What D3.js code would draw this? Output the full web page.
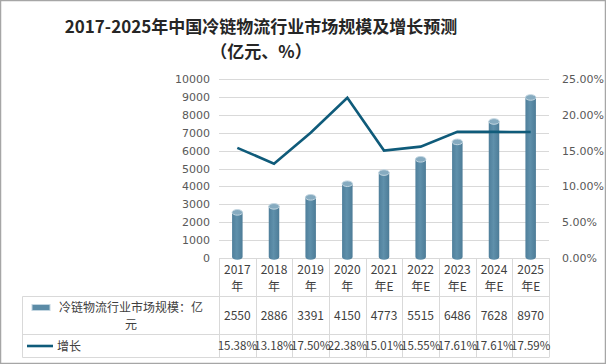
<!DOCTYPE html>
<html>
<head>
<meta charset="utf-8">
<script src="https://cdn.jsdelivr.net/npm/d3@7"></script>
<style>
  body { margin: 0; background: #fff; }
  svg { display: block; font-family: "Noto Sans CJK SC", "DejaVu Sans", sans-serif; }
  .title { font-weight: bold; fill: #262626; }
  .tick text { fill: #595959; font-size: 11px; font-family: "DejaVu Sans", "Noto Sans CJK SC", sans-serif; }
  .cell { fill: #404040; font-size: 12px; }
  .pct { font-family: "Liberation Sans Narrow", "Noto Sans CJK SC", sans-serif; font-size: 11.5px; }
</style>
</head>
<body>
<div class="chart-container"></div>
<script>
var years = ['2017', '2018', '2019', '2020', '2021', '2022', '2023', '2024', '2025'];
var yearSuffix = ['年', '年', '年', '年', '年E', '年E', '年E', '年E', '年E'];
var marketSize = [2550, 2886, 3391, 4150, 4773, 5515, 6486, 7628, 8970];
var growth = [15.38, 13.18, 17.50, 22.38, 15.01, 15.55, 17.61, 17.61, 17.59];
var leftTicks = [0, 1000, 2000, 3000, 4000, 5000, 6000, 7000, 8000, 9000, 10000];
var rightTicks = [0, 5, 10, 15, 20, 25];

var W = 606, H = 364;
var margin = {top: 79, left: 219, right: 57, bottom: 106};
var plotBottom = H - margin.bottom;

var svg = d3.select('.chart-container').append('svg')
  .attr('width', W)
  .attr('height', H);

// outer frame
svg.append('rect')
  .attr('x', 0.5).attr('y', 0.5)
  .attr('width', W - 1).attr('height', H - 1)
  .attr('fill', 'none').attr('stroke', '#a6a6a6').attr('stroke-width', 1.5);

svg.append('text').attr('class', 'title')
  .attr('x', 261).attr('y', 33).attr('text-anchor', 'middle')
  .attr('font-size', 17).text('2017-2025年中国冷链物流行业市场规模及增长预测');
svg.append('text').attr('class', 'title')
  .attr('x', 261).attr('y', 58).attr('text-anchor', 'middle')
  .attr('font-size', 17).text('（亿元、%）');

var x = d3.scaleBand()
  .domain(years)
  .range([margin.left, W - margin.right]);

var y = d3.scaleLinear()
  .domain([0, 10000])
  .range([plotBottom, margin.top]);

var y2 = d3.scaleLinear()
  .domain([0, 25])
  .range([plotBottom, margin.top]);

// gridlines
svg.append('g')
  .selectAll('line')
  .data(leftTicks)
  .enter().append('line')
  .attr('x1', margin.left).attr('x2', W - margin.right)
  .attr('y1', d => Math.round(y(d)) + 0.5).attr('y2', d => Math.round(y(d)) + 0.5)
  .attr('stroke', '#d9d9d9').attr('stroke-width', 1);

var yAxis = d3.axisLeft(y).tickValues(leftTicks).tickSize(0).tickPadding(9)
  .tickFormat(d3.format('d'));
var gY = svg.append('g')
  .attr('transform', `translate(${margin.left},0)`)
  .call(yAxis);
gY.select('.domain').remove();

var yAxis2 = d3.axisRight(y2).tickValues(rightTicks).tickSize(0).tickPadding(0)
  .tickFormat(d => d.toFixed(2) + '%');
var gY2 = svg.append('g')
  .attr('transform', `translate(${W - margin.right + 13},0)`)
  .call(yAxis2);
gY2.select('.domain').remove();

// cylinder bars
var bw = 10.5;
var ry = 2.8;
var grad = svg.append('defs').append('linearGradient')
  .attr('id', 'cyl').attr('x1', 0).attr('x2', 1).attr('y1', 0).attr('y2', 0);
grad.append('stop').attr('offset', '0%').attr('stop-color', '#4f7f9b');
grad.append('stop').attr('offset', '45%').attr('stop-color', '#5f90ab');
grad.append('stop').attr('offset', '100%').attr('stop-color', '#4d7c97');

var bars = svg.append('g').selectAll('g')
  .data(marketSize)
  .enter().append('g');
bars.append('path')
  .attr('d', (d, i) => {
    var cx = x(years[i]) + x.bandwidth() / 2;
    var x0 = cx - bw / 2, x1 = cx + bw / 2;
    var top = y(d), bot = plotBottom - 1;
    return `M${x0},${top}L${x0},${bot}A${bw / 2},${ry} 0 0 0 ${x1},${bot}L${x1},${top}Z`;
  })
  .attr('fill', 'url(#cyl)');
bars.append('ellipse')
  .attr('cx', (d, i) => x(years[i]) + x.bandwidth() / 2)
  .attr('cy', d => y(d))
  .attr('rx', bw / 2).attr('ry', ry)
  .attr('fill', '#86abc0').attr('stroke', '#c3d6e1').attr('stroke-width', 1);

// growth line
var line = d3.line()
  .x((d, i) => x(years[i]) + x.bandwidth() / 2)
  .y(d => y2(d));
svg.append('path')
  .datum(growth)
  .attr('d', line)
  .attr('fill', 'none')
  .attr('stroke', '#0f5b7a')
  .attr('stroke-width', 2.6)
  .attr('stroke-linejoin', 'miter');

// data table
var gridColor = '#d9d9d9';
var rowY = [plotBottom, 296.5, 334.5, 357.5];
var tableLeft = 22.5;
var table = svg.append('g');
var colEdges = years.map(d => x(d)).concat([x(years[years.length - 1]) + x.bandwidth()]);
table.selectAll('.vline')
  .data(colEdges)
  .enter().append('line')
  .attr('x1', d => Math.round(d) + 0.5).attr('x2', d => Math.round(d) + 0.5)
  .attr('y1', plotBottom).attr('y2', rowY[3])
  .attr('stroke', gridColor);
table.selectAll('.hline')
  .data(rowY.slice(1))
  .enter().append('line')
  .attr('x1', tableLeft).attr('x2', W - margin.right)
  .attr('y1', d => d).attr('y2', d => d)
  .attr('stroke', gridColor);
table.append('line')
  .attr('x1', tableLeft).attr('x2', tableLeft)
  .attr('y1', rowY[1]).attr('y2', rowY[3])
  .attr('stroke', gridColor);

var cx = (d, i) => x(years[i]) + x.bandwidth() / 2;
table.selectAll('.yr1').data(years).enter().append('text')
  .attr('class', 'cell').attr('text-anchor', 'middle')
  .attr('x', cx).attr('y', 274).text(d => d);
table.selectAll('.yr2').data(yearSuffix).enter().append('text')
  .attr('class', 'cell').attr('text-anchor', 'middle')
  .attr('x', cx).attr('y', 291).text(d => d);
table.selectAll('.val').data(marketSize).enter().append('text')
  .attr('class', 'cell').attr('text-anchor', 'middle')
  .attr('x', cx).attr('y', 320).text(d => d);
table.selectAll('.pctv').data(growth).enter().append('text')
  .attr('class', 'cell pct').attr('text-anchor', 'middle')
  .attr('x', cx).attr('y', 350).text(d => d.toFixed(2) + '%');

// legend keys in table
table.append('rect')
  .attr('x', 32).attr('y', 304.5).attr('width', 18).attr('height', 6)
  .attr('fill', '#5b8ba6').attr('stroke', '#c3d6e1').attr('stroke-width', 1);
table.append('text').attr('class', 'cell')
  .attr('x', 59).attr('y', 312).text('冷链物流行业市场规模：亿');
table.append('text').attr('class', 'cell').attr('text-anchor', 'middle')
  .attr('x', 131).attr('y', 329).text('元');
table.append('line')
  .attr('x1', 27).attr('x2', 53).attr('y1', 346).attr('y2', 346)
  .attr('stroke', '#0f5b7a').attr('stroke-width', 2.6);
table.append('text').attr('class', 'cell')
  .attr('x', 57).attr('y', 351).text('增长');
</script>
</body>
</html>
